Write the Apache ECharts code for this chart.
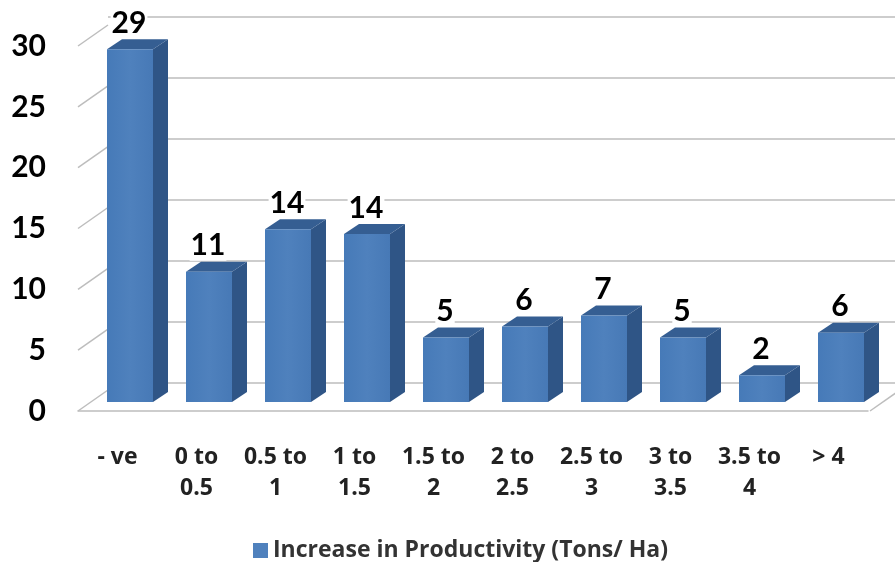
<!DOCTYPE html>
<html><head><meta charset="utf-8">
<style>html,body{margin:0;padding:0;background:#fff}#c{width:895px;height:562px}</style>
<script src="https://cdn.jsdelivr.net/npm/echarts@6/dist/echarts.min.js"></script>
</head><body><div id="c"></div>
<script>
const categories = ['- ve','0 to\n0.5','0.5 to\n1','1 to\n1.5','1.5 to\n2','2 to\n2.5','2.5 to\n3','3 to\n3.5','3.5 to\n4','> 4'];
const productivity = [29.0,10.7,14.2,13.8,5.3,6.2,7.1,5.3,2.2,5.7];
const yTicks = [0,5,10,15,20,25,30];
const seriesName = 'Increase in Productivity (Tons/ Ha)';

const FONT = 'Lato', WIDE = '"Open Sans"';
const FRONT = {type:'linear',x:0,y:0,x2:1,y2:0,colorStops:[{offset:0,color:'#467ab8'},{offset:.5,color:'#4f81bd'},{offset:1,color:'#4779b6'}]};
const SIDE = '#2f5586', TOP = '#355e92', GRID = '#bdbdbd';
const W = 46, OX = 12.5, OY = -9, DX = 15, DY = -10;
const WALL_X = 30, WALL_Y = -21;

const chart = echarts.init(document.getElementById('c'));
chart.setOption({
  animation:false,
  backgroundColor:'#fff',
  grid:[
    {left:78,top:46,width:790,height:365},
    {left:108,top:17,width:790,height:366}
  ],
  legend:{
    data:[seriesName],left:248,top:534,icon:'rect',itemWidth:15,itemHeight:15,itemGap:7,
    textStyle:{fontFamily:WIDE,fontWeight:'bold',fontSize:23,color:'#333'}
  },
  xAxis:[
    {type:'category',gridIndex:0,data:categories,
     axisTick:{show:false},axisLine:{lineStyle:{color:GRID,width:1.5}},
     axisLabel:{fontFamily:WIDE,fontWeight:'bold',fontSize:23,color:'#222',lineHeight:31,margin:31,interval:0}},
    {type:'category',gridIndex:1,data:categories,show:false}
  ],
  yAxis:[
    {type:'value',gridIndex:0,min:0,max:30,interval:5,
     splitLine:{show:false},axisLine:{show:false},axisTick:{show:false},
     axisLabel:{fontFamily:FONT,fontWeight:'bold',fontSize:30,color:'#000',margin:32}},
    {type:'value',gridIndex:1,min:0,max:30,interval:5,
     axisLine:{show:false},axisTick:{show:false},axisLabel:{show:false},
     splitLine:{show:true,lineStyle:{color:GRID,width:1.5}}}
  ],
  series:[
    {type:'custom',name:'walls',xAxisIndex:0,yAxisIndex:0,clip:false,silent:true,z:1,
     data:yTicks.map(t=>[0,t]),
     renderItem(params,api){
       const y = api.coord([0,api.value(1)])[1];
       const x = params.coordSys.x;
       const lines = [{type:'line',shape:{x1:x,y1:y,x2:x+WALL_X,y2:y+WALL_Y},style:{stroke:GRID,lineWidth:1.5}}];
       if(api.value(1)===0){
         const xr = x+params.coordSys.width+2;
         lines.push({type:'line',shape:{x1:xr,y1:y,x2:xr+WALL_X,y2:y+WALL_Y},style:{stroke:GRID,lineWidth:1.5}});
       }
       return {type:'group',children:lines};
     }},
    {type:'custom',name:seriesName,xAxisIndex:0,yAxisIndex:0,clip:false,silent:true,z:3,
     itemStyle:{color:'#4f81bd'},
     data:productivity.map((v,i)=>[i,v]),
     renderItem(params,api){
       const v = api.value(1);
       const top = api.coord([api.value(0),v]), base = api.coord([api.value(0),0]);
       const l = base[0]-W/2+OX, r = l+W, yb = base[1]+OY, yt = top[1]+OY;
       return {type:'group',children:[
         {type:'polygon',shape:{points:[[r,yb],[r+DX,yb+DY],[r+DX,yt+DY],[r,yt]]},style:{fill:SIDE}},
         {type:'polygon',shape:{points:[[l,yt],[l+DX,yt+DY],[r+DX,yt+DY],[r,yt]]},style:{fill:TOP}},
         {type:'rect',shape:{x:l,y:yt,width:W,height:yb-yt},style:{fill:FRONT}},
         {type:'text',style:{text:String(Math.round(v)),x:l+W/2-1,y:yt+DY-1,align:'center',verticalAlign:'bottom',
           font:'bold 30px '+FONT,fill:'#000',backgroundColor:'#fff',padding:[0,1,0,1]}}
       ]};
     }}
  ]
});
</script></body></html>
